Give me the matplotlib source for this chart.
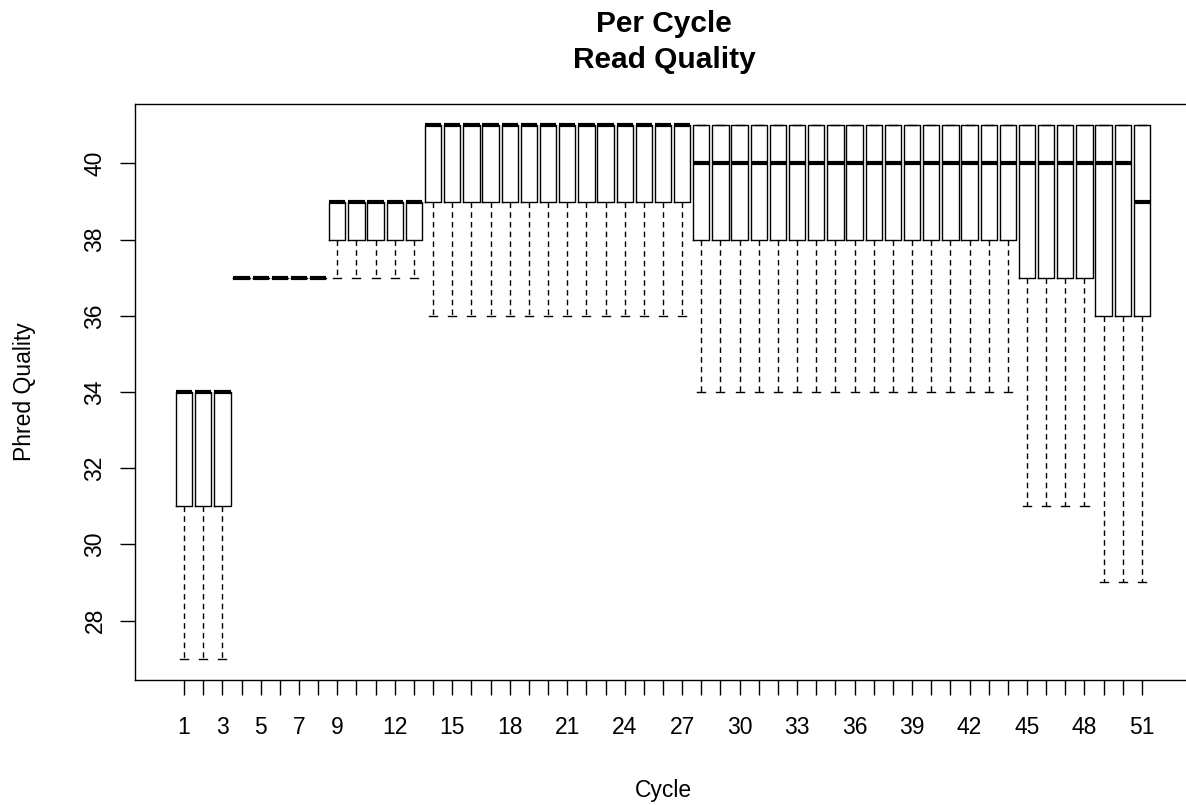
import numpy as np
import matplotlib
matplotlib.use('Agg')
import matplotlib.pyplot as plt

plt.rcParams['font.family'] = ['Liberation Sans', 'DejaVu Sans']

# per-cycle quality summary (whisker low, Q1, median, Q3, whisker high)
cycles = list(range(1, 52))
whislo = [27]*3 + [37]*5 + [37]*5 + [36]*14 + [34]*17 + [31]*4 + [29]*3
q1     = [31]*3 + [37]*5 + [38]*5 + [39]*14 + [38]*17 + [37]*4 + [36]*3
med    = [34]*3 + [37]*5 + [39]*5 + [41]*14 + [40]*17 + [40]*4 + [40]*2 + [39]
q3     = [34]*3 + [37]*5 + [39]*5 + [41]*14 + [41]*17 + [41]*4 + [41]*3
whishi = [34]*3 + [37]*5 + [39]*5 + [41]*14 + [41]*17 + [41]*4 + [41]*3

shown_labels = [1, 3, 5, 7, 9, 12, 15, 18, 21, 24, 27, 30, 33, 36, 39, 42, 45, 48, 51]
yticks = [28, 30, 32, 34, 36, 38, 40]
title_lines = ['Per Cycle', 'Read Quality']

stats = []
for i in range(len(cycles)):
    stats.append({'whislo': whislo[i], 'q1': q1[i], 'med': med[i],
                  'q3': q3[i], 'whishi': whishi[i], 'fliers': []})

W, H = 1186, 805
fig = plt.figure(figsize=(W/100, H/100), dpi=100)
# axes box: left 135px, top 104px, bottom 680px, right runs just past the image
L, R, T, B = 135, 1191, 104, 680
ax = fig.add_axes([L/W, 1-B/H, (R-L)/W, (B-T)/H])

ax.bxp(stats, positions=cycles, widths=0.85, capwidths=0.42,
       boxprops=dict(color='black', linewidth=1.0),
       whiskerprops=dict(color='black', linewidth=1.0, linestyle=(0, (4, 3))),
       capprops=dict(color='black', linewidth=1.0),
       medianprops=dict(color='black', linewidth=3.0, solid_capstyle='butt'),
       showfliers=False, manage_ticks=False)

ax.set_xlim(-1.56, 53.56)
ax.set_ylim(26.44, 41.56)

fs = 16.5
ax.set_xticks(cycles)
ax.set_xticklabels([str(c) if c in shown_labels else '' for c in cycles], fontsize=fs)
ax.set_yticks(yticks)
ax.set_yticklabels([str(v) for v in yticks], fontsize=fs, rotation=90, va='center')
ax.tick_params(axis='both', direction='out', length=11, width=1.0)
ax.tick_params(axis='x', pad=15)
ax.tick_params(axis='y', pad=9.5)

for s in ax.spines.values():
    s.set_linewidth(1.0)

ax.set_xlabel('Cycle', fontsize=fs)
ax.xaxis.set_label_coords((663-L)/(R-L), -(790-B)/(B-T))
ax.xaxis.label.set_va('center')
ax.set_ylabel('Phred Quality', fontsize=fs)
ax.yaxis.set_label_coords(-(L-25)/(R-L), 0.5)
ax.yaxis.label.set_va('center')

# two-line bold title, baselines
for line, base in zip(title_lines, [32, 68]):
    fig.text(664/W, 1-base/H, line, ha='center', va='baseline',
             fontsize=21.5, fontweight='bold')

plt.savefig('out.png', dpi=100)
plt.close()
